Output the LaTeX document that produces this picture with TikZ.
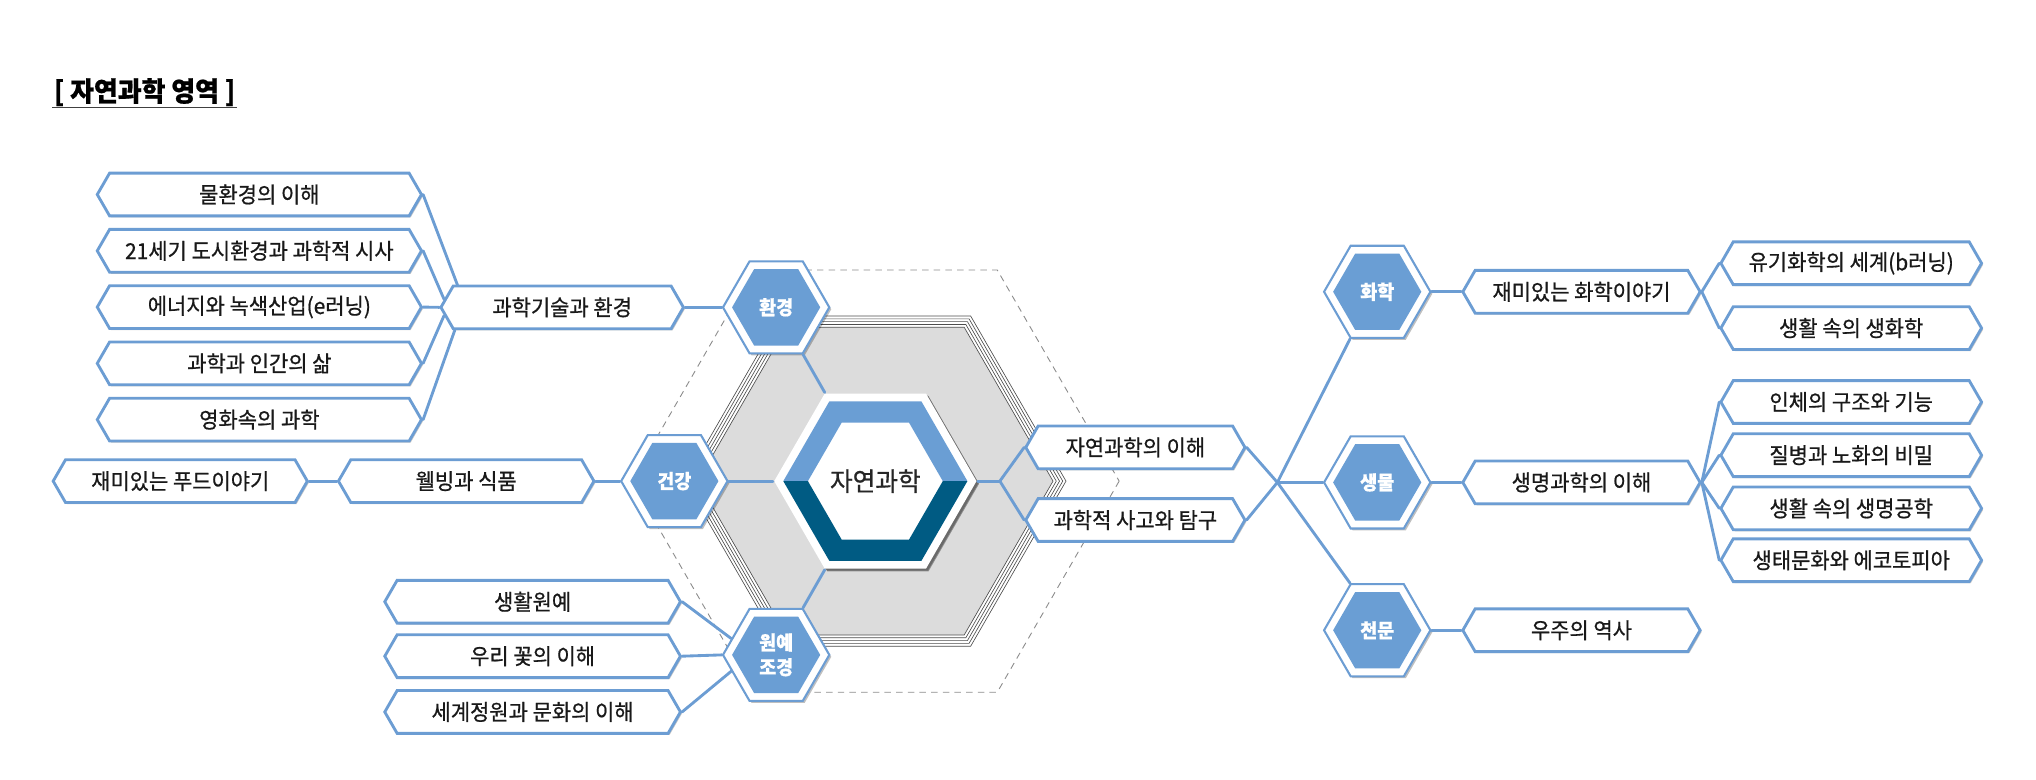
\documentclass[tikz,border=0pt]{standalone}
\usepackage{fontspec}
\setmainfont{Noto Sans CJK KR}[FakeStretch=0.95, FakeBold=0.7]
\usepackage{xcolor}
\usepackage{tikz}
\usetikzlibrary{shapes.geometric}
\usetikzlibrary{shapes.symbols}
\usetikzlibrary{shadows}
\definecolor{hexblue}{RGB}{106,158,212}
\definecolor{lineblue}{RGB}{108,157,211}
\definecolor{deepblue}{RGB}{0,91,131}
\definecolor{plategray}{RGB}{220,220,220}
\tikzset{
    link/.style = {draw=lineblue, line width=2.2pt, line cap=round},
    leaf/.style = {signal, signal to=west and east, signal pointer angle=120, draw=lineblue, fill=white, line width=2.2pt,
                   minimum height=33pt, minimum width=#1, inner sep=0pt, text=black!90, font=\fontsize{17}{19}\selectfont,
                   drop shadow={shadow xshift=1.2pt, shadow yshift=-1.2pt, opacity=0.22, fill=black}},
    hexrim/.style = {regular polygon, regular polygon sides=6, draw=lineblue, fill=white, line width=1.6pt, minimum size=82pt, inner sep=0pt,
                     drop shadow={shadow xshift=1.5pt, shadow yshift=-1.5pt, opacity=0.25, fill=black}},
    hexcore/.style = {regular polygon, regular polygon sides=6, fill=hexblue, minimum size=68pt, inner sep=0pt, text=white, align=center,
                      font=\bfseries\fontsize{15}{19}\selectfont}
}

\begin{document}
\begin{tikzpicture}[x=1pt, y=-1pt]
\useasboundingbox (0,0) rectangle (1570,601);

% title
\node[font=\bfseries\fontsize{21}{24}\selectfont, inner sep=1pt] (title) at (111.5,71) {[ 자연과학 영역 ]};
\draw[black!75, line width=0.8pt] (title.south west) -- (title.south east);

% dashed frame and gray plate
\begin{scope}[shift={(675,371)}]
    \draw[black!45, line width=0.7pt, dash pattern=on 5pt off 4pt] (0:188) -- (60:188) -- (120:188) -- (180:188) -- (240:188) -- (300:188) -- cycle;
    \fill[plategray] (0:137) -- (60:137) -- (120:137) -- (180:137) -- (240:137) -- (300:137) -- cycle;
    \foreach \r in {137,139.5,...,147}
        \draw[black!70, line width=0.5pt] (0:\r) -- (60:\r) -- (120:\r) -- (180:\r) -- (240:\r) -- (300:\r) -- cycle;
\end{scope}

% center
\node[hexrim, draw=none, minimum size=156pt, drop shadow={shadow xshift=2pt, shadow yshift=-2pt, opacity=0.35, fill=black}] (core) at (675,371) {};
\begin{scope}[shift={(675,371)}]
    \fill[hexblue] (0:71) -- (-60:71) -- (-120:71) -- (180:71) -- (180:52) -- (-120:52) -- (-60:52) -- (0:52) -- cycle;
    \fill[deepblue] (0:71) -- (60:71) -- (120:71) -- (180:71) -- (180:52) -- (120:52) -- (60:52) -- (0:52) -- cycle;
\end{scope}
\node[font=\fontsize{20}{22}\selectfont, text=black!85] (corelabel) at (675,371) {자연과학};

% hexes
\foreach \n/\x/\y/\t in {env/598.5/237/환경, hlth/520/371/건강, grdn/598.5/505/{원예\\조경},
                         chem/1062/225/화학, bio/1062/372/생물, astro/1062/486/천문} {
    \node[hexrim] (\n) at (\x,\y) {};
    \node[hexcore] (\n-in) at (\x,\y) {\t};
}

% left side
\node[leaf=187pt] (sci) at (433.5,237) {과학기술과 환경};
\foreach \t [count=\i] in {물환경의 이해, 21세기 도시환경과 과학적 시사, 에너지와 녹색산업(e러닝), 과학과 인간의 삶, 영화속의 과학}
    \node[leaf=250pt] (tech\i) at (200, {150+43.4*(\i-1)}) {\t};
\node[leaf=197pt] (well) at (359.5,371) {웰빙과 식품};
\node[leaf=196pt] (food) at (139,371) {재미있는 푸드이야기};
\foreach \t/\y [count=\i] in {생활원예/464, 우리 꽃의 이해/506, 세계정원과 문화의 이해/549}
    \node[leaf=228pt] (gard\i) at (410.7,\y) {\t};

% right side
\node[leaf=169pt] (nat1) at (875.5,345) {자연과학의 이해};
\node[leaf=169pt] (nat2) at (875.5,401) {과학적 사고와 탐구};
\coordinate (jl) at (771,371);
\coordinate (jr) at (985,372);
\node[leaf=183pt] (chemb) at (1219.5,225) {재미있는 화학이야기};
\node[leaf=183pt] (lifeb) at (1219.5,372) {생명과학의 이해};
\node[leaf=183pt] (spaceb) at (1219.5,486) {우주의 역사};
\foreach \t/\y [count=\i] in {유기화학의 세계(b러닝)/203, 생활 속의 생화학/253}
    \node[leaf=201pt] (chem\i) at (1427.5,\y) {\t};
\foreach \t/\y [count=\i] in {인체의 구조와 기능/310, 질병과 노화의 비밀/351, 생활 속의 생명공학/392, 생태문화와 에코토피아/432}
    \node[leaf=201pt] (life\i) at (1427.5,\y) {\t};

% connectors
\draw[link] (env) -- (core);
\draw[link] (hlth) -- (core);
\draw[link] (grdn) -- (core);
\draw[link] (sci.east) -- (env.west);
\foreach \i/\a in {1/168, 2/176, 3/180, 4/184, 5/192}
    \draw[link] (tech\i.east) -- (sci.\a);
\draw[link] (food.east) -- (well.west);
\draw[link] (well.east) -- (hlth.west);
\foreach \i/\a in {1/160, 2/180, 3/200}
    \draw[link] (gard\i.east) -- (grdn.\a);
\draw[link] (core.east) -- (jl);
\draw[link] (jl) -- (nat1.west);
\draw[link] (jl) -- (nat2.west);
\draw[link] (nat1.east) -- (jr);
\draw[link] (nat2.east) -- (jr);
\draw[link] (jr) -- (chem.240);
\draw[link] (jr) -- (bio.west);
\draw[link] (jr) -- (astro.120);
\draw[link] (chem.east) -- (chemb.west);
\draw[link] (bio.east) -- (lifeb.west);
\draw[link] (astro.east) -- (spaceb.west);
\foreach \i in {1,2}
    \draw[link] (chemb.east) -- (chem\i.west);
\foreach \i in {1,...,4}
    \draw[link] (lifeb.east) -- (life\i.west);
\end{tikzpicture}
\end{document}
